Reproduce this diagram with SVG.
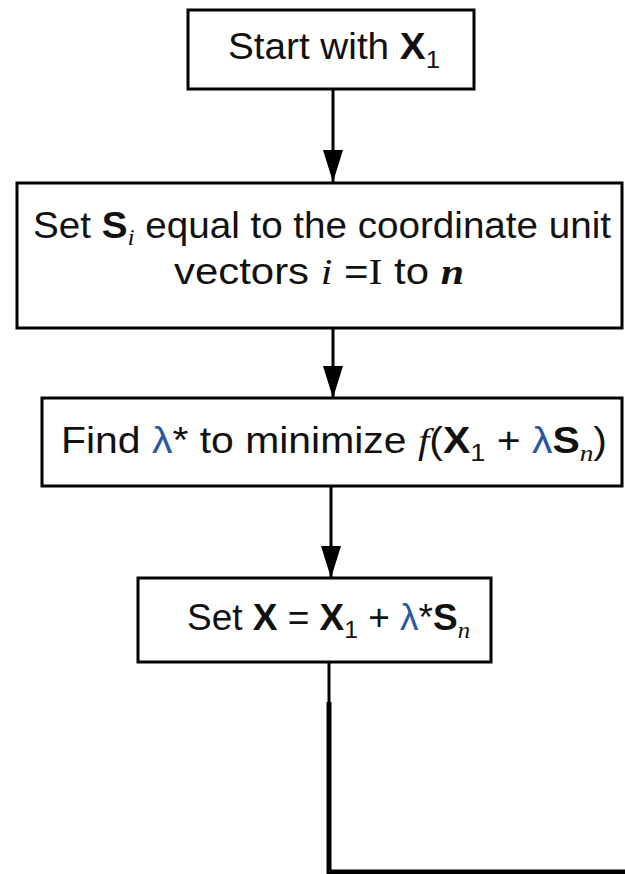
<svg xmlns="http://www.w3.org/2000/svg" width="625" height="874" viewBox="0 0 625 874">
<style>
.box{fill:#fff;stroke:#000;stroke-width:3}
.t{font-family:"Liberation Sans",Arial,sans-serif;font-size:36px;fill:#111}
.b{font-weight:bold}
.it{font-family:"Liberation Serif","Times New Roman",serif;font-style:italic}
.sr{font-family:"Liberation Serif","Times New Roman",serif}
.sub{font-size:24px}
.lam{fill:#2b57a0}
.c{stroke:#000;stroke-width:3;fill:none}
</style>
<defs>
<marker id="ah" markerWidth="32" markerHeight="20" refX="32" refY="10" orient="auto" markerUnits="userSpaceOnUse" viewBox="0 0 32 20">
<path d="M0,0 L32,10 L0,20 Z" fill="#000"/>
</marker>
</defs>
<g id="connectors">
<line class="c" x1="333" y1="89" x2="333" y2="182" marker-end="url(#ah)"/>
<line class="c" x1="333" y1="328" x2="333" y2="398" marker-end="url(#ah)"/>
<line class="c" x1="331" y1="486" x2="331" y2="578" marker-end="url(#ah)"/>
<line class="c" x1="329" y1="662" x2="329" y2="702"/>
<path d="M329,702 L329,872 L625,872" style="stroke:#000;stroke-width:5;fill:none"/>
</g>
<g id="start">
<rect class="box" x="188" y="10" width="286" height="79"/>
<text class="t" x="228" y="59" textLength="212" lengthAdjust="spacingAndGlyphs">Start with <tspan class="b">X</tspan><tspan class="sub" dy="9">1</tspan></text>
</g>
<g id="set-s">
<rect class="box" x="17" y="183" width="605" height="145"/>
<text class="t" x="33" y="238" textLength="578" lengthAdjust="spacingAndGlyphs">Set <tspan class="b">S</tspan><tspan class="sub it" dy="7">i</tspan><tspan dy="-7"> equal to the coordinate unit</tspan></text>
<text class="t" x="174" y="284" textLength="290" lengthAdjust="spacingAndGlyphs">vectors <tspan class="it">i</tspan> =<tspan class="sr">I</tspan> to <tspan class="it b">n</tspan></text>
</g>
<g id="find-lambda">
<rect class="box" x="42" y="398" width="580" height="88"/>
<text class="t" x="61" y="453" textLength="546" lengthAdjust="spacingAndGlyphs">Find <tspan class="lam">λ</tspan>* to minimize <tspan class="it">f</tspan>(<tspan class="b">X</tspan><tspan class="sub" dy="8">1</tspan><tspan dy="-8"> + </tspan><tspan class="lam">λ</tspan><tspan class="b">S</tspan><tspan class="sub it" dy="8">n</tspan><tspan dy="-8">)</tspan></text>
</g>
<g id="set-x">
<rect class="box" x="138" y="578" width="353" height="84"/>
<text class="t" x="187" y="630" textLength="283" lengthAdjust="spacingAndGlyphs">Set <tspan class="b">X</tspan> = <tspan class="b">X</tspan><tspan class="sub" dy="8">1</tspan><tspan dy="-8"> + </tspan><tspan class="lam">λ</tspan>*<tspan class="b">S</tspan><tspan class="sub it" dy="8">n</tspan></text>
</g>
</svg>
